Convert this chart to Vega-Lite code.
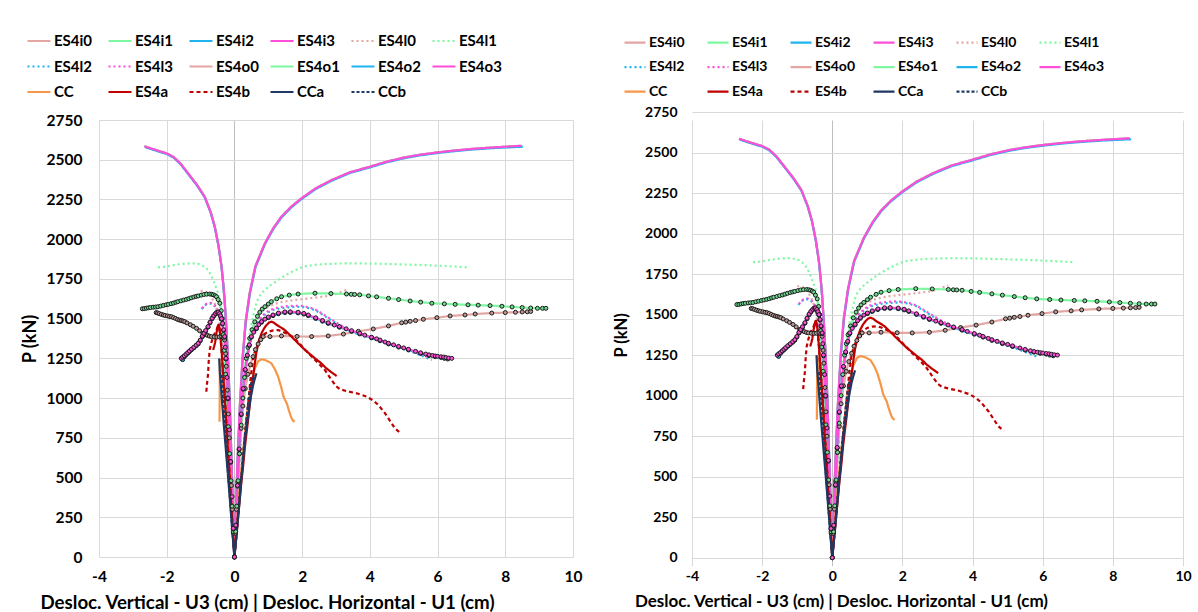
{
"$schema": "https://vega.github.io/schema/vega-lite/v6.json",
"background": "white",
"padding": {"left": 21, "top": 28, "right": 0, "bottom": 0},
"config": {"view": {"stroke": null}, "font": "Lato", "axis": {"labelOverlap": false, "labelFlush": false}},
"spacing": 31,
"resolve": {"scale": {"color": "independent", "strokeDash": "independent", "strokeWidth": "independent", "fill": "independent"}, "legend": {"color": "independent", "strokeDash": "independent"}},
"datasets": {"d": [
{"s":"ES4i0","x":-2.66,"p":2585},{"s":"ES4i0","x":-2.45,"p":2570},{"s":"ES4i0","x":-2.2,"p":2553},{"s":"ES4i0","x":-2.0,"p":2540},{"s":"ES4i0","x":-1.8,"p":2518},{"s":"ES4i0","x":-1.6,"p":2478},{"s":"ES4i0","x":-1.37,"p":2415},{"s":"ES4i0","x":-1.1,"p":2340},{"s":"ES4i0","x":-0.88,"p":2268},{"s":"ES4i0","x":-0.7,"p":2170},{"s":"ES4i0","x":-0.58,"p":2079},{"s":"ES4i0","x":-0.47,"p":1960},{"s":"ES4i0","x":-0.38,"p":1827},{"s":"ES4i0","x":-0.33,"p":1720},{"s":"ES4i0","x":-0.29,"p":1617},{"s":"ES4i0","x":-0.24,"p":1450},{"s":"ES4i0","x":-0.19,"p":1250},{"s":"ES4i0","x":-0.14,"p":980},{"s":"ES4i0","x":-0.08,"p":560},{"s":"ES4i0","x":-0.03,"p":210},{"s":"ES4i0","x":0,"p":0},{"s":"ES4i0","x":0.03,"p":230},{"s":"ES4i0","x":0.09,"p":600},{"s":"ES4i0","x":0.16,"p":950},{"s":"ES4i0","x":0.24,"p":1250},{"s":"ES4i0","x":0.33,"p":1480},{"s":"ES4i0","x":0.45,"p":1660},{"s":"ES4i0","x":0.62,"p":1830},{"s":"ES4i0","x":0.9,"p":1974},{"s":"ES4i0","x":1.15,"p":2070},{"s":"ES4i0","x":1.39,"p":2142},{"s":"ES4i0","x":1.68,"p":2205},{"s":"ES4i0","x":1.98,"p":2257},{"s":"ES4i0","x":2.4,"p":2320},{"s":"ES4i0","x":2.87,"p":2372},{"s":"ES4i0","x":3.4,"p":2420},{"s":"ES4i0","x":4.0,"p":2456},{"s":"ES4i0","x":4.5,"p":2488},{"s":"ES4i0","x":5.04,"p":2515},{"s":"ES4i0","x":5.5,"p":2532},{"s":"ES4i0","x":6.03,"p":2547},{"s":"ES4i0","x":6.5,"p":2558},{"s":"ES4i0","x":7.01,"p":2568},{"s":"ES4i0","x":7.7,"p":2578},{"s":"ES4i0","x":8.49,"p":2587},
{"s":"ES4i1","x":-2.66,"p":2585},{"s":"ES4i1","x":-2.45,"p":2570},{"s":"ES4i1","x":-2.2,"p":2553},{"s":"ES4i1","x":-2.0,"p":2540},{"s":"ES4i1","x":-1.8,"p":2518},{"s":"ES4i1","x":-1.6,"p":2478},{"s":"ES4i1","x":-1.37,"p":2415},{"s":"ES4i1","x":-1.1,"p":2340},{"s":"ES4i1","x":-0.88,"p":2268},{"s":"ES4i1","x":-0.7,"p":2170},{"s":"ES4i1","x":-0.58,"p":2079},{"s":"ES4i1","x":-0.47,"p":1960},{"s":"ES4i1","x":-0.38,"p":1827},{"s":"ES4i1","x":-0.33,"p":1720},{"s":"ES4i1","x":-0.29,"p":1617},{"s":"ES4i1","x":-0.24,"p":1450},{"s":"ES4i1","x":-0.19,"p":1250},{"s":"ES4i1","x":-0.14,"p":980},{"s":"ES4i1","x":-0.08,"p":560},{"s":"ES4i1","x":-0.03,"p":210},{"s":"ES4i1","x":0,"p":0},{"s":"ES4i1","x":0.03,"p":230},{"s":"ES4i1","x":0.09,"p":600},{"s":"ES4i1","x":0.16,"p":950},{"s":"ES4i1","x":0.24,"p":1250},{"s":"ES4i1","x":0.33,"p":1480},{"s":"ES4i1","x":0.45,"p":1660},{"s":"ES4i1","x":0.62,"p":1830},{"s":"ES4i1","x":0.9,"p":1974},{"s":"ES4i1","x":1.15,"p":2070},{"s":"ES4i1","x":1.39,"p":2142},{"s":"ES4i1","x":1.68,"p":2205},{"s":"ES4i1","x":1.98,"p":2257},{"s":"ES4i1","x":2.4,"p":2320},{"s":"ES4i1","x":2.87,"p":2372},{"s":"ES4i1","x":3.4,"p":2420},{"s":"ES4i1","x":4.0,"p":2456},{"s":"ES4i1","x":4.5,"p":2488},{"s":"ES4i1","x":5.04,"p":2515},{"s":"ES4i1","x":5.5,"p":2532},{"s":"ES4i1","x":6.03,"p":2547},{"s":"ES4i1","x":6.5,"p":2558},{"s":"ES4i1","x":7.01,"p":2568},{"s":"ES4i1","x":7.7,"p":2578},{"s":"ES4i1","x":8.49,"p":2587},
{"s":"ES4i2","x":-2.64,"p":2580},{"s":"ES4i2","x":-2.45,"p":2566},{"s":"ES4i2","x":-2.2,"p":2549},{"s":"ES4i2","x":-2.0,"p":2536},{"s":"ES4i2","x":-1.8,"p":2514},{"s":"ES4i2","x":-1.6,"p":2474},{"s":"ES4i2","x":-1.37,"p":2411},{"s":"ES4i2","x":-1.1,"p":2336},{"s":"ES4i2","x":-0.88,"p":2264},{"s":"ES4i2","x":-0.7,"p":2166},{"s":"ES4i2","x":-0.58,"p":2075},{"s":"ES4i2","x":-0.47,"p":1956},{"s":"ES4i2","x":-0.38,"p":1823},{"s":"ES4i2","x":-0.33,"p":1716},{"s":"ES4i2","x":-0.29,"p":1613},{"s":"ES4i2","x":-0.24,"p":1446},{"s":"ES4i2","x":-0.19,"p":1246},{"s":"ES4i2","x":-0.14,"p":976},{"s":"ES4i2","x":-0.08,"p":556},{"s":"ES4i2","x":-0.03,"p":206},{"s":"ES4i2","x":0,"p":0},{"s":"ES4i2","x":0.035,"p":226},{"s":"ES4i2","x":0.095,"p":596},{"s":"ES4i2","x":0.165,"p":946},{"s":"ES4i2","x":0.245,"p":1246},{"s":"ES4i2","x":0.335,"p":1476},{"s":"ES4i2","x":0.455,"p":1656},{"s":"ES4i2","x":0.625,"p":1826},{"s":"ES4i2","x":0.905,"p":1970},{"s":"ES4i2","x":1.155,"p":2066},{"s":"ES4i2","x":1.395,"p":2138},{"s":"ES4i2","x":1.685,"p":2201},{"s":"ES4i2","x":1.985,"p":2253},{"s":"ES4i2","x":2.405,"p":2316},{"s":"ES4i2","x":2.875,"p":2368},{"s":"ES4i2","x":3.405,"p":2416},{"s":"ES4i2","x":4.005,"p":2452},{"s":"ES4i2","x":4.505,"p":2484},{"s":"ES4i2","x":5.045,"p":2511},{"s":"ES4i2","x":5.505,"p":2528},{"s":"ES4i2","x":6.035,"p":2543},{"s":"ES4i2","x":6.505,"p":2554},{"s":"ES4i2","x":7.015,"p":2564},{"s":"ES4i2","x":7.705,"p":2574},{"s":"ES4i2","x":8.52,"p":2582},
{"s":"ES4i3","x":-2.66,"p":2585},{"s":"ES4i3","x":-2.45,"p":2570},{"s":"ES4i3","x":-2.2,"p":2553},{"s":"ES4i3","x":-2.0,"p":2540},{"s":"ES4i3","x":-1.8,"p":2518},{"s":"ES4i3","x":-1.6,"p":2478},{"s":"ES4i3","x":-1.37,"p":2415},{"s":"ES4i3","x":-1.1,"p":2340},{"s":"ES4i3","x":-0.88,"p":2268},{"s":"ES4i3","x":-0.7,"p":2170},{"s":"ES4i3","x":-0.58,"p":2079},{"s":"ES4i3","x":-0.47,"p":1960},{"s":"ES4i3","x":-0.38,"p":1827},{"s":"ES4i3","x":-0.33,"p":1720},{"s":"ES4i3","x":-0.29,"p":1617},{"s":"ES4i3","x":-0.24,"p":1450},{"s":"ES4i3","x":-0.19,"p":1250},{"s":"ES4i3","x":-0.14,"p":980},{"s":"ES4i3","x":-0.08,"p":560},{"s":"ES4i3","x":-0.03,"p":210},{"s":"ES4i3","x":0,"p":0},{"s":"ES4i3","x":0.03,"p":230},{"s":"ES4i3","x":0.09,"p":600},{"s":"ES4i3","x":0.16,"p":950},{"s":"ES4i3","x":0.24,"p":1250},{"s":"ES4i3","x":0.33,"p":1480},{"s":"ES4i3","x":0.45,"p":1660},{"s":"ES4i3","x":0.62,"p":1830},{"s":"ES4i3","x":0.9,"p":1974},{"s":"ES4i3","x":1.15,"p":2070},{"s":"ES4i3","x":1.39,"p":2142},{"s":"ES4i3","x":1.68,"p":2205},{"s":"ES4i3","x":1.98,"p":2257},{"s":"ES4i3","x":2.4,"p":2320},{"s":"ES4i3","x":2.87,"p":2372},{"s":"ES4i3","x":3.4,"p":2420},{"s":"ES4i3","x":4.0,"p":2456},{"s":"ES4i3","x":4.5,"p":2488},{"s":"ES4i3","x":5.04,"p":2515},{"s":"ES4i3","x":5.5,"p":2532},{"s":"ES4i3","x":6.03,"p":2547},{"s":"ES4i3","x":6.5,"p":2558},{"s":"ES4i3","x":7.01,"p":2568},{"s":"ES4i3","x":7.7,"p":2578},{"s":"ES4i3","x":8.47,"p":2588},
{"s":"ES4l0","x":-1.0,"p":1675},{"s":"ES4l0","x":-0.92,"p":1675},{"s":"ES4l0","x":-0.85,"p":1670},{"s":"ES4l0","x":-0.77,"p":1660},{"s":"ES4l0","x":-0.7,"p":1640},{"s":"ES4l0","x":-0.62,"p":1612},{"s":"ES4l0","x":-0.55,"p":1580},{"s":"ES4l0","x":-0.48,"p":1520},{"s":"ES4l0","x":-0.42,"p":1450},{"s":"ES4l0","x":-0.36,"p":1340},{"s":"ES4l0","x":-0.3,"p":1200},{"s":"ES4l0","x":-0.25,"p":1030},{"s":"ES4l0","x":-0.2,"p":850},{"s":"ES4l0","x":-0.15,"p":640},{"s":"ES4l0","x":-0.1,"p":430},{"s":"ES4l0","x":-0.05,"p":210},{"s":"ES4l0","x":0,"p":0},{"s":"ES4l0","x":0.05,"p":210},{"s":"ES4l0","x":0.1,"p":430},{"s":"ES4l0","x":0.16,"p":650},{"s":"ES4l0","x":0.22,"p":850},{"s":"ES4l0","x":0.28,"p":1030},{"s":"ES4l0","x":0.35,"p":1200},{"s":"ES4l0","x":0.45,"p":1330},{"s":"ES4l0","x":0.55,"p":1430},{"s":"ES4l0","x":0.65,"p":1490},{"s":"ES4l0","x":0.75,"p":1530},{"s":"ES4l0","x":0.87,"p":1557},{"s":"ES4l0","x":1.0,"p":1575},{"s":"ES4l0","x":1.2,"p":1593},{"s":"ES4l0","x":1.44,"p":1607},{"s":"ES4l0","x":1.7,"p":1615},{"s":"ES4l0","x":1.98,"p":1622},{"s":"ES4l0","x":2.38,"p":1632},{"s":"ES4l0","x":2.77,"p":1643},{"s":"ES4l0","x":3.0,"p":1655},{"s":"ES4l0","x":3.15,"p":1668},{"s":"ES4l0","x":3.31,"p":1680},
{"s":"ES4l1","x":-2.26,"p":1823},{"s":"ES4l1","x":-2.1,"p":1826},{"s":"ES4l1","x":-1.9,"p":1833},{"s":"ES4l1","x":-1.7,"p":1840},{"s":"ES4l1","x":-1.5,"p":1845},{"s":"ES4l1","x":-1.3,"p":1848},{"s":"ES4l1","x":-1.17,"p":1848},{"s":"ES4l1","x":-1.05,"p":1843},{"s":"ES4l1","x":-0.95,"p":1835},{"s":"ES4l1","x":-0.86,"p":1822},{"s":"ES4l1","x":-0.78,"p":1806},{"s":"ES4l1","x":-0.7,"p":1778},{"s":"ES4l1","x":-0.62,"p":1740},{"s":"ES4l1","x":-0.55,"p":1700},{"s":"ES4l1","x":-0.48,"p":1660},{"s":"ES4l1","x":-0.43,"p":1580},{"s":"ES4l1","x":-0.38,"p":1500},{"s":"ES4l1","x":-0.33,"p":1380},{"s":"ES4l1","x":-0.28,"p":1250},{"s":"ES4l1","x":-0.23,"p":1080},{"s":"ES4l1","x":-0.18,"p":900},{"s":"ES4l1","x":-0.13,"p":680},{"s":"ES4l1","x":-0.09,"p":450},{"s":"ES4l1","x":-0.045,"p":220},{"s":"ES4l1","x":0,"p":0},{"s":"ES4l1","x":0.045,"p":220},{"s":"ES4l1","x":0.09,"p":450},{"s":"ES4l1","x":0.14,"p":680},{"s":"ES4l1","x":0.2,"p":900},{"s":"ES4l1","x":0.25,"p":1060},{"s":"ES4l1","x":0.3,"p":1200},{"s":"ES4l1","x":0.36,"p":1290},{"s":"ES4l1","x":0.41,"p":1350},{"s":"ES4l1","x":0.5,"p":1460},{"s":"ES4l1","x":0.58,"p":1540},{"s":"ES4l1","x":0.65,"p":1600},{"s":"ES4l1","x":0.72,"p":1635},{"s":"ES4l1","x":0.8,"p":1660},{"s":"ES4l1","x":0.95,"p":1690},{"s":"ES4l1","x":1.1,"p":1715},{"s":"ES4l1","x":1.29,"p":1743},{"s":"ES4l1","x":1.5,"p":1772},{"s":"ES4l1","x":1.75,"p":1800},{"s":"ES4l1","x":2.03,"p":1827},{"s":"ES4l1","x":2.35,"p":1838},{"s":"ES4l1","x":2.72,"p":1844},{"s":"ES4l1","x":3.1,"p":1847},{"s":"ES4l1","x":3.46,"p":1848},{"s":"ES4l1","x":4.2,"p":1846},{"s":"ES4l1","x":4.84,"p":1842},{"s":"ES4l1","x":5.45,"p":1838},{"s":"ES4l1","x":6.03,"p":1833},{"s":"ES4l1","x":6.5,"p":1828},{"s":"ES4l1","x":6.89,"p":1823},
{"s":"ES4l2","x":-0.97,"p":1560},{"s":"ES4l2","x":-0.88,"p":1583},{"s":"ES4l2","x":-0.8,"p":1592},{"s":"ES4l2","x":-0.72,"p":1595},{"s":"ES4l2","x":-0.65,"p":1592},{"s":"ES4l2","x":-0.58,"p":1578},{"s":"ES4l2","x":-0.5,"p":1555},{"s":"ES4l2","x":-0.45,"p":1520},{"s":"ES4l2","x":-0.4,"p":1465},{"s":"ES4l2","x":-0.35,"p":1370},{"s":"ES4l2","x":-0.3,"p":1250},{"s":"ES4l2","x":-0.25,"p":1080},{"s":"ES4l2","x":-0.2,"p":880},{"s":"ES4l2","x":-0.15,"p":660},{"s":"ES4l2","x":-0.1,"p":440},{"s":"ES4l2","x":-0.05,"p":220},{"s":"ES4l2","x":0,"p":0},{"s":"ES4l2","x":0.05,"p":220},{"s":"ES4l2","x":0.1,"p":440},{"s":"ES4l2","x":0.16,"p":660},{"s":"ES4l2","x":0.22,"p":880},{"s":"ES4l2","x":0.28,"p":1050},{"s":"ES4l2","x":0.35,"p":1200},{"s":"ES4l2","x":0.42,"p":1300},{"s":"ES4l2","x":0.5,"p":1380},{"s":"ES4l2","x":0.6,"p":1440},{"s":"ES4l2","x":0.7,"p":1480},{"s":"ES4l2","x":0.8,"p":1505},{"s":"ES4l2","x":0.9,"p":1525},{"s":"ES4l2","x":1.0,"p":1540},{"s":"ES4l2","x":1.14,"p":1554},{"s":"ES4l2","x":1.35,"p":1565},{"s":"ES4l2","x":1.59,"p":1571},{"s":"ES4l2","x":1.8,"p":1574},{"s":"ES4l2","x":1.98,"p":1575},{"s":"ES4l2","x":2.2,"p":1566},{"s":"ES4l2","x":2.38,"p":1554},{"s":"ES4l2","x":2.55,"p":1532},{"s":"ES4l2","x":2.77,"p":1502},{"s":"ES4l2","x":3.05,"p":1465},{"s":"ES4l2","x":3.36,"p":1428},{"s":"ES4l2","x":3.65,"p":1403},{"s":"ES4l2","x":3.96,"p":1383},{"s":"ES4l2","x":4.25,"p":1362},{"s":"ES4l2","x":4.55,"p":1340},{"s":"ES4l2","x":4.85,"p":1319},{"s":"ES4l2","x":5.14,"p":1298},{"s":"ES4l2","x":5.5,"p":1270},{"s":"ES4l2","x":5.83,"p":1240},
{"s":"ES4l3","x":-0.95,"p":1565},{"s":"ES4l3","x":-0.87,"p":1588},{"s":"ES4l3","x":-0.79,"p":1597},{"s":"ES4l3","x":-0.71,"p":1600},{"s":"ES4l3","x":-0.64,"p":1596},{"s":"ES4l3","x":-0.57,"p":1582},{"s":"ES4l3","x":-0.5,"p":1560},{"s":"ES4l3","x":-0.45,"p":1525},{"s":"ES4l3","x":-0.4,"p":1470},{"s":"ES4l3","x":-0.35,"p":1375},{"s":"ES4l3","x":-0.3,"p":1255},{"s":"ES4l3","x":-0.25,"p":1085},{"s":"ES4l3","x":-0.2,"p":885},{"s":"ES4l3","x":-0.15,"p":665},{"s":"ES4l3","x":-0.1,"p":445},{"s":"ES4l3","x":-0.05,"p":222},{"s":"ES4l3","x":0,"p":0},{"s":"ES4l3","x":0.05,"p":225},{"s":"ES4l3","x":0.1,"p":445},{"s":"ES4l3","x":0.16,"p":665},{"s":"ES4l3","x":0.22,"p":885},{"s":"ES4l3","x":0.28,"p":1055},{"s":"ES4l3","x":0.35,"p":1205},{"s":"ES4l3","x":0.42,"p":1305},{"s":"ES4l3","x":0.5,"p":1388},{"s":"ES4l3","x":0.6,"p":1448},{"s":"ES4l3","x":0.7,"p":1488},{"s":"ES4l3","x":0.8,"p":1513},{"s":"ES4l3","x":0.9,"p":1533},{"s":"ES4l3","x":1.0,"p":1548},{"s":"ES4l3","x":1.14,"p":1562},{"s":"ES4l3","x":1.35,"p":1573},{"s":"ES4l3","x":1.59,"p":1579},{"s":"ES4l3","x":1.8,"p":1581},{"s":"ES4l3","x":1.98,"p":1580},{"s":"ES4l3","x":2.2,"p":1571},{"s":"ES4l3","x":2.38,"p":1558},{"s":"ES4l3","x":2.55,"p":1537},{"s":"ES4l3","x":2.77,"p":1507},{"s":"ES4l3","x":3.05,"p":1470},{"s":"ES4l3","x":3.36,"p":1433},{"s":"ES4l3","x":3.65,"p":1408},{"s":"ES4l3","x":3.96,"p":1388},{"s":"ES4l3","x":4.25,"p":1367},{"s":"ES4l3","x":4.55,"p":1346},{"s":"ES4l3","x":4.85,"p":1325},{"s":"ES4l3","x":5.14,"p":1305},{"s":"ES4l3","x":5.45,"p":1280},{"s":"ES4l3","x":5.72,"p":1258},
{"s":"ES4o0","x":-2.31,"p":1538},{"s":"ES4o0","x":-2.27,"p":1536},{"s":"ES4o0","x":-2.22,"p":1532},{"s":"ES4o0","x":-2.16,"p":1527},{"s":"ES4o0","x":-2.1,"p":1523},{"s":"ES4o0","x":-2.05,"p":1520},{"s":"ES4o0","x":-1.98,"p":1517},{"s":"ES4o0","x":-1.92,"p":1514},{"s":"ES4o0","x":-1.86,"p":1512},{"s":"ES4o0","x":-1.8,"p":1507},{"s":"ES4o0","x":-1.74,"p":1501},{"s":"ES4o0","x":-1.68,"p":1495},{"s":"ES4o0","x":-1.62,"p":1491},{"s":"ES4o0","x":-1.57,"p":1488},{"s":"ES4o0","x":-1.52,"p":1485},{"s":"ES4o0","x":-1.47,"p":1481},{"s":"ES4o0","x":-1.4,"p":1473},{"s":"ES4o0","x":-1.3,"p":1462},{"s":"ES4o0","x":-1.22,"p":1452},{"s":"ES4o0","x":-1.12,"p":1439},{"s":"ES4o0","x":-1.03,"p":1424},{"s":"ES4o0","x":-0.93,"p":1408},{"s":"ES4o0","x":-0.86,"p":1400},{"s":"ES4o0","x":-0.8,"p":1395},{"s":"ES4o0","x":-0.74,"p":1390},{"s":"ES4o0","x":-0.68,"p":1387},{"s":"ES4o0","x":-0.6,"p":1385},{"s":"ES4o0","x":-0.52,"p":1384},{"s":"ES4o0","x":-0.45,"p":1385},{"s":"ES4o0","x":-0.38,"p":1387},{"s":"ES4o0","x":-0.33,"p":1380},{"s":"ES4o0","x":-0.29,"p":1366},{"s":"ES4o0","x":-0.26,"p":1280},{"s":"ES4o0","x":-0.24,"p":1200},{"s":"ES4o0","x":-0.21,"p":1050},{"s":"ES4o0","x":-0.18,"p":900},{"s":"ES4o0","x":-0.15,"p":750},{"s":"ES4o0","x":-0.12,"p":600},{"s":"ES4o0","x":-0.09,"p":450},{"s":"ES4o0","x":-0.06,"p":300},{"s":"ES4o0","x":-0.03,"p":150},{"s":"ES4o0","x":0,"p":0},{"s":"ES4o0","x":0.03,"p":150},{"s":"ES4o0","x":0.06,"p":300},{"s":"ES4o0","x":0.1,"p":470},{"s":"ES4o0","x":0.15,"p":650},{"s":"ES4o0","x":0.2,"p":810},{"s":"ES4o0","x":0.25,"p":950},{"s":"ES4o0","x":0.32,"p":1060},{"s":"ES4o0","x":0.4,"p":1150},{"s":"ES4o0","x":0.47,"p":1210},{"s":"ES4o0","x":0.55,"p":1261},{"s":"ES4o0","x":0.62,"p":1305},{"s":"ES4o0","x":0.7,"p":1340},{"s":"ES4o0","x":0.78,"p":1368},{"s":"ES4o0","x":0.85,"p":1387},{"s":"ES4o0","x":1.05,"p":1387},{"s":"ES4o0","x":1.39,"p":1391},{"s":"ES4o0","x":1.85,"p":1388},{"s":"ES4o0","x":2.28,"p":1387},{"s":"ES4o0","x":2.77,"p":1391},{"s":"ES4o0","x":3.22,"p":1403},{"s":"ES4o0","x":3.66,"p":1420},{"s":"ES4o0","x":4.1,"p":1435},{"s":"ES4o0","x":4.55,"p":1454},{"s":"ES4o0","x":4.94,"p":1474},{"s":"ES4o0","x":5.06,"p":1478},{"s":"ES4o0","x":5.19,"p":1483},{"s":"ES4o0","x":5.35,"p":1488},{"s":"ES4o0","x":5.58,"p":1496},{"s":"ES4o0","x":5.98,"p":1506},{"s":"ES4o0","x":6.37,"p":1517},{"s":"ES4o0","x":6.81,"p":1523},{"s":"ES4o0","x":7.11,"p":1529},{"s":"ES4o0","x":7.6,"p":1535},{"s":"ES4o0","x":8.0,"p":1538},{"s":"ES4o0","x":8.3,"p":1540},{"s":"ES4o0","x":8.5,"p":1542},{"s":"ES4o0","x":8.65,"p":1543},{"s":"ES4o0","x":8.75,"p":1545},
{"s":"ES4o1","x":-2.72,"p":1562},{"s":"ES4o1","x":-2.66,"p":1563},{"s":"ES4o1","x":-2.6,"p":1566},{"s":"ES4o1","x":-2.54,"p":1568},{"s":"ES4o1","x":-2.48,"p":1570},{"s":"ES4o1","x":-2.4,"p":1572},{"s":"ES4o1","x":-2.33,"p":1573},{"s":"ES4o1","x":-2.26,"p":1575},{"s":"ES4o1","x":-2.18,"p":1579},{"s":"ES4o1","x":-2.1,"p":1583},{"s":"ES4o1","x":-2.02,"p":1587},{"s":"ES4o1","x":-1.95,"p":1590},{"s":"ES4o1","x":-1.87,"p":1594},{"s":"ES4o1","x":-1.8,"p":1598},{"s":"ES4o1","x":-1.73,"p":1603},{"s":"ES4o1","x":-1.67,"p":1607},{"s":"ES4o1","x":-1.58,"p":1612},{"s":"ES4o1","x":-1.5,"p":1617},{"s":"ES4o1","x":-1.42,"p":1621},{"s":"ES4o1","x":-1.35,"p":1626},{"s":"ES4o1","x":-1.28,"p":1631},{"s":"ES4o1","x":-1.2,"p":1636},{"s":"ES4o1","x":-1.13,"p":1640},{"s":"ES4o1","x":-1.07,"p":1643},{"s":"ES4o1","x":-0.98,"p":1648},{"s":"ES4o1","x":-0.9,"p":1652},{"s":"ES4o1","x":-0.82,"p":1654},{"s":"ES4o1","x":-0.73,"p":1655},{"s":"ES4o1","x":-0.67,"p":1653},{"s":"ES4o1","x":-0.62,"p":1650},{"s":"ES4o1","x":-0.57,"p":1645},{"s":"ES4o1","x":-0.53,"p":1638},{"s":"ES4o1","x":-0.48,"p":1620},{"s":"ES4o1","x":-0.43,"p":1597},{"s":"ES4o1","x":-0.39,"p":1550},{"s":"ES4o1","x":-0.36,"p":1500},{"s":"ES4o1","x":-0.33,"p":1400},{"s":"ES4o1","x":-0.3,"p":1300},{"s":"ES4o1","x":-0.26,"p":1150},{"s":"ES4o1","x":-0.22,"p":1000},{"s":"ES4o1","x":-0.18,"p":820},{"s":"ES4o1","x":-0.14,"p":650},{"s":"ES4o1","x":-0.1,"p":480},{"s":"ES4o1","x":-0.07,"p":320},{"s":"ES4o1","x":-0.035,"p":160},{"s":"ES4o1","x":0,"p":0},{"s":"ES4o1","x":0.035,"p":160},{"s":"ES4o1","x":0.07,"p":320},{"s":"ES4o1","x":0.11,"p":480},{"s":"ES4o1","x":0.15,"p":650},{"s":"ES4o1","x":0.2,"p":830},{"s":"ES4o1","x":0.25,"p":1000},{"s":"ES4o1","x":0.3,"p":1130},{"s":"ES4o1","x":0.35,"p":1250},{"s":"ES4o1","x":0.4,"p":1320},{"s":"ES4o1","x":0.45,"p":1376},{"s":"ES4o1","x":0.52,"p":1430},{"s":"ES4o1","x":0.6,"p":1480},{"s":"ES4o1","x":0.68,"p":1515},{"s":"ES4o1","x":0.75,"p":1540},{"s":"ES4o1","x":0.82,"p":1560},{"s":"ES4o1","x":0.9,"p":1575},{"s":"ES4o1","x":1.0,"p":1592},{"s":"ES4o1","x":1.09,"p":1607},{"s":"ES4o1","x":1.25,"p":1625},{"s":"ES4o1","x":1.39,"p":1638},{"s":"ES4o1","x":1.62,"p":1648},{"s":"ES4o1","x":1.88,"p":1655},{"s":"ES4o1","x":2.38,"p":1660},{"s":"ES4o1","x":2.85,"p":1658},{"s":"ES4o1","x":3.31,"p":1655},{"s":"ES4o1","x":3.45,"p":1653},{"s":"ES4o1","x":3.55,"p":1652},{"s":"ES4o1","x":3.7,"p":1650},{"s":"ES4o1","x":3.96,"p":1643},{"s":"ES4o1","x":4.2,"p":1637},{"s":"ES4o1","x":4.55,"p":1628},{"s":"ES4o1","x":4.85,"p":1620},{"s":"ES4o1","x":5.19,"p":1611},{"s":"ES4o1","x":5.5,"p":1604},{"s":"ES4o1","x":5.83,"p":1597},{"s":"ES4o1","x":6.2,"p":1593},{"s":"ES4o1","x":6.52,"p":1590},{"s":"ES4o1","x":6.9,"p":1587},{"s":"ES4o1","x":7.2,"p":1585},{"s":"ES4o1","x":7.55,"p":1582},{"s":"ES4o1","x":7.9,"p":1578},{"s":"ES4o1","x":8.2,"p":1574},{"s":"ES4o1","x":8.5,"p":1570},{"s":"ES4o1","x":8.75,"p":1567},{"s":"ES4o1","x":8.95,"p":1565},{"s":"ES4o1","x":9.1,"p":1565},{"s":"ES4o1","x":9.2,"p":1565},
{"s":"ES4o2","x":-1.53,"p":1242},{"s":"ES4o2","x":-1.48,"p":1260},{"s":"ES4o2","x":-1.43,"p":1272},{"s":"ES4o2","x":-1.38,"p":1282},{"s":"ES4o2","x":-1.33,"p":1292},{"s":"ES4o2","x":-1.27,"p":1304},{"s":"ES4o2","x":-1.2,"p":1316},{"s":"ES4o2","x":-1.13,"p":1329},{"s":"ES4o2","x":-1.07,"p":1341},{"s":"ES4o2","x":-1.01,"p":1361},{"s":"ES4o2","x":-0.95,"p":1386},{"s":"ES4o2","x":-0.9,"p":1404},{"s":"ES4o2","x":-0.85,"p":1421},{"s":"ES4o2","x":-0.78,"p":1446},{"s":"ES4o2","x":-0.72,"p":1474},{"s":"ES4o2","x":-0.66,"p":1499},{"s":"ES4o2","x":-0.61,"p":1516},{"s":"ES4o2","x":-0.56,"p":1528},{"s":"ES4o2","x":-0.52,"p":1536},{"s":"ES4o2","x":-0.48,"p":1537},{"s":"ES4o2","x":-0.44,"p":1528},{"s":"ES4o2","x":-0.41,"p":1514},{"s":"ES4o2","x":-0.38,"p":1496},{"s":"ES4o2","x":-0.35,"p":1466},{"s":"ES4o2","x":-0.32,"p":1426},{"s":"ES4o2","x":-0.29,"p":1383},{"s":"ES4o2","x":-0.25,"p":1246},{"s":"ES4o2","x":-0.19,"p":996},{"s":"ES4o2","x":-0.11,"p":596},{"s":"ES4o2","x":-0.035,"p":176},{"s":"ES4o2","x":0,"p":0},{"s":"ES4o2","x":0.04,"p":196},{"s":"ES4o2","x":0.09,"p":446},{"s":"ES4o2","x":0.14,"p":676},{"s":"ES4o2","x":0.2,"p":896},{"s":"ES4o2","x":0.26,"p":1056},{"s":"ES4o2","x":0.32,"p":1176},{"s":"ES4o2","x":0.38,"p":1266},{"s":"ES4o2","x":0.44,"p":1331},{"s":"ES4o2","x":0.5,"p":1383},{"s":"ES4o2","x":0.65,"p":1436},{"s":"ES4o2","x":0.8,"p":1477},{"s":"ES4o2","x":1.0,"p":1506},{"s":"ES4o2","x":1.14,"p":1519},{"s":"ES4o2","x":1.3,"p":1531},{"s":"ES4o2","x":1.49,"p":1538},{"s":"ES4o2","x":1.65,"p":1539},{"s":"ES4o2","x":1.88,"p":1536},{"s":"ES4o2","x":2.05,"p":1529},{"s":"ES4o2","x":2.18,"p":1519},{"s":"ES4o2","x":2.4,"p":1501},{"s":"ES4o2","x":2.6,"p":1484},{"s":"ES4o2","x":2.77,"p":1470},{"s":"ES4o2","x":3.1,"p":1446},{"s":"ES4o2","x":3.46,"p":1420},{"s":"ES4o2","x":3.7,"p":1404},{"s":"ES4o2","x":4.05,"p":1379},{"s":"ES4o2","x":4.3,"p":1361},{"s":"ES4o2","x":4.55,"p":1341},{"s":"ES4o2","x":4.85,"p":1321},{"s":"ES4o2","x":5.14,"p":1303},{"s":"ES4o2","x":5.5,"p":1281},{"s":"ES4o2","x":5.75,"p":1268},{"s":"ES4o2","x":5.93,"p":1261},{"s":"ES4o2","x":6.1,"p":1256},{"s":"ES4o2","x":6.2,"p":1250},{"s":"ES4o2","x":6.3,"p":1246},
{"s":"ES4o3","x":-1.57,"p":1250},{"s":"ES4o3","x":-1.53,"p":1258},{"s":"ES4o3","x":-1.48,"p":1266},{"s":"ES4o3","x":-1.43,"p":1276},{"s":"ES4o3","x":-1.38,"p":1286},{"s":"ES4o3","x":-1.33,"p":1296},{"s":"ES4o3","x":-1.27,"p":1308},{"s":"ES4o3","x":-1.2,"p":1320},{"s":"ES4o3","x":-1.13,"p":1333},{"s":"ES4o3","x":-1.07,"p":1345},{"s":"ES4o3","x":-1.01,"p":1365},{"s":"ES4o3","x":-0.95,"p":1390},{"s":"ES4o3","x":-0.9,"p":1408},{"s":"ES4o3","x":-0.85,"p":1425},{"s":"ES4o3","x":-0.78,"p":1450},{"s":"ES4o3","x":-0.72,"p":1478},{"s":"ES4o3","x":-0.66,"p":1503},{"s":"ES4o3","x":-0.61,"p":1520},{"s":"ES4o3","x":-0.56,"p":1532},{"s":"ES4o3","x":-0.52,"p":1540},{"s":"ES4o3","x":-0.48,"p":1541},{"s":"ES4o3","x":-0.44,"p":1532},{"s":"ES4o3","x":-0.41,"p":1518},{"s":"ES4o3","x":-0.38,"p":1500},{"s":"ES4o3","x":-0.35,"p":1470},{"s":"ES4o3","x":-0.32,"p":1430},{"s":"ES4o3","x":-0.29,"p":1387},{"s":"ES4o3","x":-0.27,"p":1320},{"s":"ES4o3","x":-0.25,"p":1250},{"s":"ES4o3","x":-0.22,"p":1130},{"s":"ES4o3","x":-0.19,"p":1000},{"s":"ES4o3","x":-0.15,"p":800},{"s":"ES4o3","x":-0.11,"p":600},{"s":"ES4o3","x":-0.07,"p":380},{"s":"ES4o3","x":-0.035,"p":180},{"s":"ES4o3","x":0,"p":0},{"s":"ES4o3","x":0.04,"p":200},{"s":"ES4o3","x":0.09,"p":450},{"s":"ES4o3","x":0.14,"p":680},{"s":"ES4o3","x":0.2,"p":900},{"s":"ES4o3","x":0.26,"p":1060},{"s":"ES4o3","x":0.32,"p":1180},{"s":"ES4o3","x":0.38,"p":1270},{"s":"ES4o3","x":0.44,"p":1335},{"s":"ES4o3","x":0.5,"p":1387},{"s":"ES4o3","x":0.57,"p":1415},{"s":"ES4o3","x":0.65,"p":1440},{"s":"ES4o3","x":0.72,"p":1462},{"s":"ES4o3","x":0.8,"p":1481},{"s":"ES4o3","x":0.9,"p":1497},{"s":"ES4o3","x":1.0,"p":1510},{"s":"ES4o3","x":1.14,"p":1523},{"s":"ES4o3","x":1.3,"p":1535},{"s":"ES4o3","x":1.49,"p":1542},{"s":"ES4o3","x":1.65,"p":1543},{"s":"ES4o3","x":1.88,"p":1540},{"s":"ES4o3","x":2.05,"p":1533},{"s":"ES4o3","x":2.18,"p":1523},{"s":"ES4o3","x":2.4,"p":1505},{"s":"ES4o3","x":2.6,"p":1488},{"s":"ES4o3","x":2.77,"p":1474},{"s":"ES4o3","x":2.95,"p":1460},{"s":"ES4o3","x":3.1,"p":1450},{"s":"ES4o3","x":3.3,"p":1436},{"s":"ES4o3","x":3.46,"p":1424},{"s":"ES4o3","x":3.7,"p":1408},{"s":"ES4o3","x":3.85,"p":1396},{"s":"ES4o3","x":4.05,"p":1383},{"s":"ES4o3","x":4.2,"p":1373},{"s":"ES4o3","x":4.3,"p":1365},{"s":"ES4o3","x":4.45,"p":1353},{"s":"ES4o3","x":4.55,"p":1345},{"s":"ES4o3","x":4.7,"p":1335},{"s":"ES4o3","x":4.85,"p":1325},{"s":"ES4o3","x":5.0,"p":1316},{"s":"ES4o3","x":5.14,"p":1307},{"s":"ES4o3","x":5.35,"p":1294},{"s":"ES4o3","x":5.5,"p":1285},{"s":"ES4o3","x":5.65,"p":1277},{"s":"ES4o3","x":5.75,"p":1272},{"s":"ES4o3","x":5.85,"p":1268},{"s":"ES4o3","x":5.93,"p":1265},{"s":"ES4o3","x":6.0,"p":1263},{"s":"ES4o3","x":6.1,"p":1260},{"s":"ES4o3","x":6.18,"p":1258},{"s":"ES4o3","x":6.25,"p":1255},{"s":"ES4o3","x":6.33,"p":1252},{"s":"ES4o3","x":6.42,"p":1250},
{"s":"CC","x":-0.44,"p":851},{"s":"CC","x":-0.437,"p":950},{"s":"CC","x":-0.434,"p":1050},{"s":"CC","x":-0.431,"p":1150},{"s":"CC","x":-0.428,"p":1220},{"s":"CC","x":-0.42,"p":1240},{"s":"CC","x":-0.39,"p":1200},{"s":"CC","x":-0.35,"p":1120},{"s":"CC","x":-0.29,"p":988},{"s":"CC","x":-0.23,"p":800},{"s":"CC","x":-0.17,"p":590},{"s":"CC","x":-0.11,"p":380},{"s":"CC","x":-0.05,"p":170},{"s":"CC","x":0,"p":0},{"s":"CC","x":0.05,"p":150},{"s":"CC","x":0.1,"p":290},{"s":"CC","x":0.17,"p":470},{"s":"CC","x":0.25,"p":650},{"s":"CC","x":0.33,"p":820},{"s":"CC","x":0.4,"p":950},{"s":"CC","x":0.5,"p":1100},{"s":"CC","x":0.6,"p":1185},{"s":"CC","x":0.7,"p":1232},{"s":"CC","x":0.8,"p":1244},{"s":"CC","x":0.9,"p":1240},{"s":"CC","x":1.0,"p":1230},{"s":"CC","x":1.09,"p":1219},{"s":"CC","x":1.2,"p":1180},{"s":"CC","x":1.29,"p":1135},{"s":"CC","x":1.38,"p":1070},{"s":"CC","x":1.45,"p":1010},{"s":"CC","x":1.49,"p":990},{"s":"CC","x":1.55,"p":965},{"s":"CC","x":1.59,"p":936},{"s":"CC","x":1.65,"p":895},{"s":"CC","x":1.69,"p":873},{"s":"CC","x":1.73,"p":858},{"s":"CC","x":1.78,"p":851},
{"s":"ES4a","x":-0.63,"p":1303},{"s":"ES4a","x":-0.6,"p":1325},{"s":"ES4a","x":-0.57,"p":1350},{"s":"ES4a","x":-0.53,"p":1410},{"s":"ES4a","x":-0.5,"p":1445},{"s":"ES4a","x":-0.48,"p":1460},{"s":"ES4a","x":-0.46,"p":1462},{"s":"ES4a","x":-0.44,"p":1440},{"s":"ES4a","x":-0.41,"p":1380},{"s":"ES4a","x":-0.38,"p":1300},{"s":"ES4a","x":-0.34,"p":1180},{"s":"ES4a","x":-0.3,"p":1050},{"s":"ES4a","x":-0.25,"p":880},{"s":"ES4a","x":-0.2,"p":700},{"s":"ES4a","x":-0.15,"p":530},{"s":"ES4a","x":-0.1,"p":350},{"s":"ES4a","x":-0.05,"p":175},{"s":"ES4a","x":0,"p":0},{"s":"ES4a","x":0.05,"p":115},{"s":"ES4a","x":0.1,"p":230},{"s":"ES4a","x":0.15,"p":345},{"s":"ES4a","x":0.2,"p":460},{"s":"ES4a","x":0.26,"p":580},{"s":"ES4a","x":0.31,"p":694},{"s":"ES4a","x":0.38,"p":820},{"s":"ES4a","x":0.45,"p":950},{"s":"ES4a","x":0.5,"p":1050},{"s":"ES4a","x":0.55,"p":1130},{"s":"ES4a","x":0.6,"p":1215},{"s":"ES4a","x":0.65,"p":1290},{"s":"ES4a","x":0.72,"p":1360},{"s":"ES4a","x":0.8,"p":1408},{"s":"ES4a","x":0.88,"p":1440},{"s":"ES4a","x":0.95,"p":1460},{"s":"ES4a","x":1.02,"p":1475},{"s":"ES4a","x":1.09,"p":1481},{"s":"ES4a","x":1.17,"p":1474},{"s":"ES4a","x":1.25,"p":1460},{"s":"ES4a","x":1.37,"p":1445},{"s":"ES4a","x":1.49,"p":1428},{"s":"ES4a","x":1.68,"p":1388},{"s":"ES4a","x":1.88,"p":1345},{"s":"ES4a","x":2.1,"p":1300},{"s":"ES4a","x":2.38,"p":1250},{"s":"ES4a","x":2.55,"p":1222},{"s":"ES4a","x":2.7,"p":1190},{"s":"ES4a","x":2.85,"p":1165},{"s":"ES4a","x":3.02,"p":1139},
{"s":"ES4b","x":-0.83,"p":1040},{"s":"ES4b","x":-0.81,"p":1090},{"s":"ES4b","x":-0.78,"p":1150},{"s":"ES4b","x":-0.76,"p":1230},{"s":"ES4b","x":-0.73,"p":1303},{"s":"ES4b","x":-0.68,"p":1350},{"s":"ES4b","x":-0.62,"p":1390},{"s":"ES4b","x":-0.57,"p":1412},{"s":"ES4b","x":-0.53,"p":1428},{"s":"ES4b","x":-0.5,"p":1445},{"s":"ES4b","x":-0.48,"p":1454},{"s":"ES4b","x":-0.45,"p":1435},{"s":"ES4b","x":-0.42,"p":1400},{"s":"ES4b","x":-0.38,"p":1300},{"s":"ES4b","x":-0.35,"p":1200},{"s":"ES4b","x":-0.3,"p":1050},{"s":"ES4b","x":-0.25,"p":900},{"s":"ES4b","x":-0.2,"p":720},{"s":"ES4b","x":-0.15,"p":550},{"s":"ES4b","x":-0.1,"p":370},{"s":"ES4b","x":-0.05,"p":180},{"s":"ES4b","x":0,"p":0},{"s":"ES4b","x":0.05,"p":120},{"s":"ES4b","x":0.1,"p":250},{"s":"ES4b","x":0.17,"p":420},{"s":"ES4b","x":0.25,"p":600},{"s":"ES4b","x":0.32,"p":780},{"s":"ES4b","x":0.4,"p":950},{"s":"ES4b","x":0.47,"p":1110},{"s":"ES4b","x":0.55,"p":1250},{"s":"ES4b","x":0.65,"p":1320},{"s":"ES4b","x":0.75,"p":1370},{"s":"ES4b","x":0.87,"p":1400},{"s":"ES4b","x":1.0,"p":1418},{"s":"ES4b","x":1.15,"p":1426},{"s":"ES4b","x":1.29,"p":1428},{"s":"ES4b","x":1.4,"p":1420},{"s":"ES4b","x":1.5,"p":1410},{"s":"ES4b","x":1.65,"p":1395},{"s":"ES4b","x":1.78,"p":1376},{"s":"ES4b","x":2.0,"p":1325},{"s":"ES4b","x":2.28,"p":1261},{"s":"ES4b","x":2.48,"p":1220},{"s":"ES4b","x":2.67,"p":1177},{"s":"ES4b","x":2.87,"p":1114},{"s":"ES4b","x":3.0,"p":1075},{"s":"ES4b","x":3.12,"p":1055},{"s":"ES4b","x":3.35,"p":1042},{"s":"ES4b","x":3.61,"p":1030},{"s":"ES4b","x":3.91,"p":1009},{"s":"ES4b","x":4.1,"p":985},{"s":"ES4b","x":4.25,"p":957},{"s":"ES4b","x":4.45,"p":904},{"s":"ES4b","x":4.6,"p":855},{"s":"ES4b","x":4.74,"p":810},{"s":"ES4b","x":4.89,"p":782},
{"s":"CCa","x":-0.45,"p":1250},{"s":"CCa","x":-0.43,"p":1160},{"s":"CCa","x":-0.4,"p":1080},{"s":"CCa","x":-0.36,"p":960},{"s":"CCa","x":-0.32,"p":850},{"s":"CCa","x":-0.27,"p":720},{"s":"CCa","x":-0.22,"p":590},{"s":"CCa","x":-0.16,"p":430},{"s":"CCa","x":-0.1,"p":270},{"s":"CCa","x":-0.05,"p":130},{"s":"CCa","x":0,"p":0},{"s":"CCa","x":0.05,"p":110},{"s":"CCa","x":0.1,"p":230},{"s":"CCa","x":0.15,"p":350},{"s":"CCa","x":0.21,"p":500},{"s":"CCa","x":0.27,"p":640},{"s":"CCa","x":0.33,"p":770},{"s":"CCa","x":0.4,"p":880},{"s":"CCa","x":0.47,"p":990},{"s":"CCa","x":0.55,"p":1080},{"s":"CCa","x":0.6,"p":1120},{"s":"CCa","x":0.65,"p":1156},
{"s":"CCb","x":-0.38,"p":1145},{"s":"CCb","x":-0.35,"p":1030},{"s":"CCb","x":-0.31,"p":900},{"s":"CCb","x":-0.26,"p":750},{"s":"CCb","x":-0.21,"p":600},{"s":"CCb","x":-0.15,"p":430},{"s":"CCb","x":-0.1,"p":280},{"s":"CCb","x":-0.05,"p":130},{"s":"CCb","x":0,"p":0},{"s":"CCb","x":0.05,"p":120},{"s":"CCb","x":0.1,"p":250},{"s":"CCb","x":0.16,"p":400},{"s":"CCb","x":0.22,"p":550},{"s":"CCb","x":0.28,"p":700},{"s":"CCb","x":0.34,"p":840},{"s":"CCb","x":0.4,"p":960},{"s":"CCb","x":0.46,"p":1060},{"s":"CCb","x":0.52,"p":1120},{"s":"CCb","x":0.57,"p":1145}
]},
"hconcat": [
{
"width": 474, "height": 437,
"data": {"name": "d"},
"encoding": {
"x": {"field": "x", "type": "quantitative", "scale": {"domain": [-4, 10], "nice": false, "zero": false},
"axis": {"values": [-4,-2,0,2,4,6,8,10], "labelExpr": "'' + datum.value", "labelFlush": false, "labelOverlap": false, "grid": true, "gridColor": {"condition": {"test": "datum.value === 0", "value": "#bfbfbf"}, "value": "#d9d9d9"}, "domain": false, "ticks": false, "labelFont": "Lato", "labelFontSize": 15.5, "labelFontWeight": "bold", "labelColor": "#000000", "labelPadding": 12, "title": "Desloc. Vertical - U3 (cm) | Desloc. Horizontal - U1 (cm)", "titleFont": "Lato", "titleFontSize": 18.7, "titleFontWeight": "bold", "titleColor": "#000000", "titleX": 168, "titleY": 51, "titleBaseline": "alphabetic", "titleAnchor": null, "titleAlign": "center"}},
"y": {"field": "p", "type": "quantitative", "scale": {"domain": [0, 2750], "nice": false},
"axis": {"values": [0,250,500,750,1000,1250,1500,1750,2000,2250,2500,2750], "format": "d", "labelOverlap": false, "grid": true, "gridColor": "#d9d9d9", "domain": false, "ticks": false, "labelFont": "Lato", "labelFontSize": 15.5, "labelFontWeight": "bold", "labelColor": "#000000", "labelPadding": 17, "title": "P (kN)", "titleFont": "Lato", "titleFontSize": 18, "titleFontWeight": "bold", "titleColor": "#000000", "titlePadding": 7}}
},
"layer": [
{"mark": {"type": "line", "strokeJoin": "round"},
"encoding": {
"color": {"field": "s", "type": "nominal",
"scale": {"domain": ["ES4i0","ES4i1","ES4i2","ES4i3","ES4l0","ES4l1","ES4l2","ES4l3","ES4o0","ES4o1","ES4o2","ES4o3","CC","ES4a","ES4b","CCa","CCb"],
"range": ["#E3A6A3","#7DF7A0","#1FB4EE","#FF4FD8","#E3A6A3","#7DF7A0","#1FB4EE","#FF4FD8","#E3A6A3","#7DF7A0","#1FB4EE","#FF4FD8","#F79646","#C00000","#C00000","#1F3864","#1F3864"]},
"legend": {"orient": "none", "legendX": -73, "legendY": -92, "direction": "horizontal", "columns": 6, "title": null, "symbolType": "stroke", "symbolSize": 529, "symbolStrokeWidth": 2, "labelFont": "Lato", "labelFontSize": 15, "labelFontWeight": "bold", "labelColor": "#000000", "labelOffset": 2, "rowPadding": 4.5, "columnPadding": 7, "gridAlign": "all", "labelLimit": 200}},
"strokeDash": {"field": "s", "type": "nominal",
"scale": {"domain": ["ES4i0","ES4i1","ES4i2","ES4i3","ES4l0","ES4l1","ES4l2","ES4l3","ES4o0","ES4o1","ES4o2","ES4o3","CC","ES4a","ES4b","CCa","CCb"],
"range": [[1,0],[1,0],[1,0],[1,0],[2,3],[2,3],[2,3],[2,3],[1,0],[1,0],[1,0],[1,0],[1,0],[1,0],[4,3],[1,0],[3,2]]},
"legend": {"orient": "none", "legendX": -73, "legendY": -92, "direction": "horizontal", "columns": 6, "title": null, "symbolType": "stroke", "symbolSize": 529, "symbolStrokeWidth": 2, "labelFont": "Lato", "labelFontSize": 15, "labelFontWeight": "bold", "labelColor": "#000000", "labelOffset": 2, "rowPadding": 4.5, "columnPadding": 7, "gridAlign": "all", "labelLimit": 200}},
"strokeWidth": {"field": "s", "type": "nominal",
"scale": {"domain": ["ES4i0","ES4i1","ES4i2","ES4i3","ES4l0","ES4l1","ES4l2","ES4l3","ES4o0","ES4o1","ES4o2","ES4o3","CC","ES4a","ES4b","CCa","CCb"],
"range": [2.2,2.2,2.2,2.2,2.6,2.6,2.6,2.6,1.3,1.3,1.3,1.3,1.6,1.7,1.6,2,1.6]}, "legend": null}
}},
{"transform": [{"filter": {"field": "s", "oneOf": ["ES4o0","ES4o1","ES4o2","ES4o3"]}}],
"mark": {"type": "point", "shape": "circle", "filled": true, "size": 16, "stroke": "#1a1a1a", "strokeWidth": 1, "opacity": 1},
"encoding": {
"fill": {"field": "s", "type": "nominal", "scale": {"domain": ["ES4o0","ES4o1","ES4o2","ES4o3"], "range": ["#B89A98","#6ED990","#1FB4EE","#FF4FD8"]}, "legend": null}
}}
]
},
{
"width": 491, "height": 437.7,
"data": {"name": "d"},
"encoding": {
"x": {"field": "x", "type": "quantitative", "scale": {"domain": [-4, 10], "nice": false, "zero": false},
"axis": {"values": [-4,-2,0,2,4,6,8,10], "labelExpr": "'' + datum.value", "labelFlush": false, "labelOverlap": false, "grid": true, "gridColor": {"condition": {"test": "datum.value === 0", "value": "#bfbfbf"}, "value": "#d9d9d9"}, "domain": false, "ticks": false, "labelFont": "Lato", "labelFontSize": 14, "labelFontWeight": "bold", "labelColor": "#000000", "labelPadding": 12, "title": "Desloc. Vertical - U3 (cm) | Desloc. Horizontal - U1 (cm)", "titleFont": "Lato", "titleFontSize": 17, "titleFontWeight": "bold", "titleColor": "#000000", "titleX": 149, "titleY": 49, "titleBaseline": "alphabetic", "titleAnchor": null, "titleAlign": "center"}},
"y": {"field": "p", "type": "quantitative", "scale": {"domain": [0, 2750], "nice": false, "range": [437.7, -8]},
"axis": {"values": [0,250,500,750,1000,1250,1500,1750,2000,2250,2500,2750], "format": "d", "labelOverlap": false, "grid": true, "gridColor": "#d9d9d9", "domain": false, "ticks": false, "labelFont": "Lato", "labelFontSize": 14, "labelFontWeight": "bold", "labelColor": "#000000", "labelPadding": 15, "title": "P (kN)", "titleFont": "Lato", "titleFontSize": 16.5, "titleFontWeight": "bold", "titleColor": "#000000", "titlePadding": 15.5}}
},
"layer": [
{"mark": {"type": "line", "strokeJoin": "round"},
"encoding": {
"color": {"field": "s", "type": "nominal",
"scale": {"domain": ["ES4i0","ES4i1","ES4i2","ES4i3","ES4l0","ES4l1","ES4l2","ES4l3","ES4o0","ES4o1","ES4o2","ES4o3","CC","ES4a","ES4b","CCa","CCb"],
"range": ["#E3A6A3","#7DF7A0","#1FB4EE","#FF4FD8","#E3A6A3","#7DF7A0","#1FB4EE","#FF4FD8","#E3A6A3","#7DF7A0","#1FB4EE","#FF4FD8","#F79646","#C00000","#C00000","#1F3864","#1F3864"]},
"legend": {"orient": "none", "legendX": -69, "legendY": -89.3, "direction": "horizontal", "columns": 6, "title": null, "symbolType": "stroke", "symbolSize": 441, "symbolStrokeWidth": 2, "labelFont": "Lato", "labelFontSize": 14, "labelFontWeight": "bold", "labelColor": "#000000", "labelOffset": 2, "rowPadding": 5.5, "columnPadding": 13, "gridAlign": "all", "labelLimit": 200}},
"strokeDash": {"field": "s", "type": "nominal",
"scale": {"domain": ["ES4i0","ES4i1","ES4i2","ES4i3","ES4l0","ES4l1","ES4l2","ES4l3","ES4o0","ES4o1","ES4o2","ES4o3","CC","ES4a","ES4b","CCa","CCb"],
"range": [[1,0],[1,0],[1,0],[1,0],[2,3],[2,3],[2,3],[2,3],[1,0],[1,0],[1,0],[1,0],[1,0],[1,0],[4,3],[1,0],[3,2]]},
"legend": {"orient": "none", "legendX": -69, "legendY": -89.3, "direction": "horizontal", "columns": 6, "title": null, "symbolType": "stroke", "symbolSize": 441, "symbolStrokeWidth": 2, "labelFont": "Lato", "labelFontSize": 14, "labelFontWeight": "bold", "labelColor": "#000000", "labelOffset": 2, "rowPadding": 5.5, "columnPadding": 13, "gridAlign": "all", "labelLimit": 200}},
"strokeWidth": {"field": "s", "type": "nominal",
"scale": {"domain": ["ES4i0","ES4i1","ES4i2","ES4i3","ES4l0","ES4l1","ES4l2","ES4l3","ES4o0","ES4o1","ES4o2","ES4o3","CC","ES4a","ES4b","CCa","CCb"],
"range": [2.2,2.2,2.2,2.2,2.6,2.6,2.6,2.6,1.3,1.3,1.3,1.3,1.6,1.7,1.6,2,1.6]}, "legend": null}
}},
{"transform": [{"filter": {"field": "s", "oneOf": ["ES4o0","ES4o1","ES4o2","ES4o3"]}}],
"mark": {"type": "point", "shape": "circle", "filled": true, "size": 16, "stroke": "#1a1a1a", "strokeWidth": 1, "opacity": 1},
"encoding": {
"fill": {"field": "s", "type": "nominal", "scale": {"domain": ["ES4o0","ES4o1","ES4o2","ES4o3"], "range": ["#B89A98","#6ED990","#1FB4EE","#FF4FD8"]}, "legend": null}
}}
]
}
]
}
